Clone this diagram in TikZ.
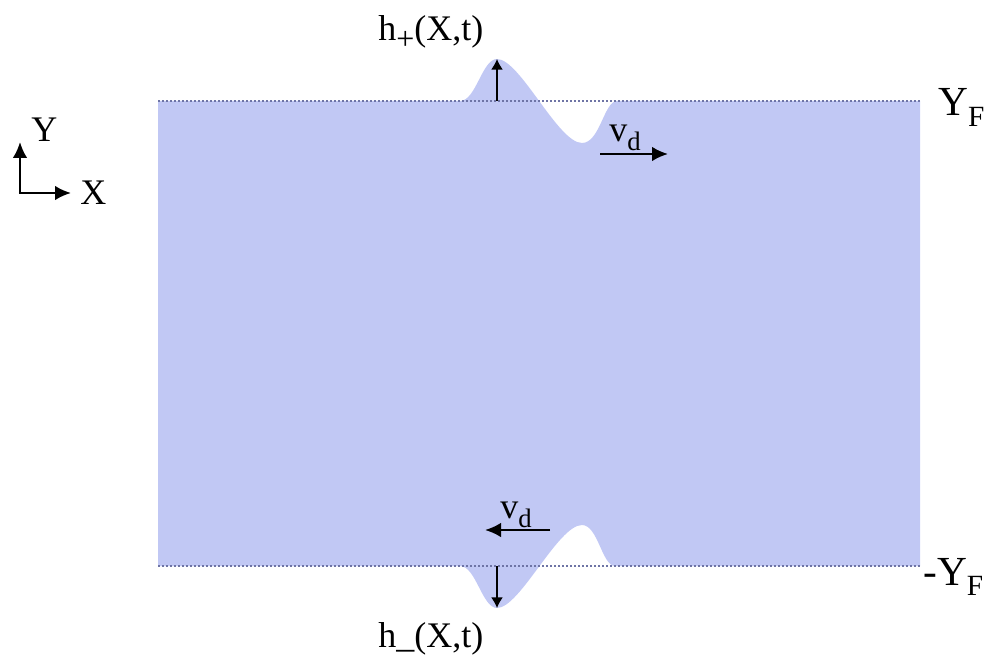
\documentclass[tikz,border=0pt]{standalone}
\usepackage{fontspec}
\setmainfont{Liberation Serif}
\usetikzlibrary{arrows.meta}
\definecolor{film}{RGB}{193,200,244}
\definecolor{dotc}{RGB}{110,116,165}
\newcommand{\mysub}[1]{\raisebox{-0.25em}{\fontsize{20}{22}\selectfont #1}}
\tikzset{
  lbl/.style={inner sep=0pt, font=\fontsize{27}{30}\selectfont},
  bigarrow/.style={line width=1.8pt, -{Latex[length=12pt,width=11pt]}},
  harrow/.style={line width=1.2pt, -{Latex[length=8pt,width=9pt]}},
  dotline/.style={dotc, line width=1.4pt, dash pattern=on 1.4pt off 1.6pt}
}
\begin{document}
\begin{tikzpicture}[x=0.75pt,y=-0.75pt]
\useasboundingbox (0,0) rectangle (984,655);
% film
\fill[film] (158,101) -- (460,101)
  .. controls (476,101) and (482,59) .. (497,59)
  .. controls (520,59) and (558,143) .. (582,143)
  .. controls (600,143) and (604,101) .. (617,101)
  -- (920,101) -- (920,566) -- (615,566)
  .. controls (602,566) and (598,525) .. (582,525)
  .. controls (558,525) and (520,608) .. (497,608)
  .. controls (482,608) and (476,566) .. (460,566)
  -- (158,566) -- cycle;
% boundaries
\coordinate (tl) at (158,101); \coordinate (tr) at (920,101);
\coordinate (bl) at (158,566); \coordinate (br) at (920,566);
\draw[dotline] (tl) -- (tr);
\draw[dotline] (bl) -- (br);
% h arrows
\coordinate (hpb) at (497,101); \coordinate (hpt) at (497,59);
\coordinate (hmb) at (497,566); \coordinate (hmt) at (497,608);
\draw[harrow] (hpb) -- (hpt);
\draw[harrow] (hmb) -- (hmt);
% velocity arrows
\coordinate (v1a) at (600,154); \coordinate (v1b) at (668,154);
\coordinate (v2a) at (550,530); \coordinate (v2b) at (485,530);
\draw[bigarrow] (v1a) -- (v1b);
\draw[bigarrow] (v2a) -- (v2b);
% axes
\coordinate (o) at (20,193); \coordinate (ay) at (20,142); \coordinate (ax) at (71,193);
\draw[bigarrow] ([yshift=0.9pt]o) -- (ay);
\draw[bigarrow] ([xshift=-0.9pt]o) -- (ax);
% labels
\node[lbl, anchor=base west] (hp) at (378,41) {h\mysub{\fontsize{24}{26}\selectfont +}(X,t)};
\node[lbl, anchor=base west] (hm) at (378,647) {h\_(X,t)};
\node[lbl, anchor=base west] (vd1) at (609,142) {v\mysub{d}};
\node[lbl, anchor=base west] (vd2) at (500,518) {v\mysub{d}};
\node[lbl, anchor=base west] (Y) at (31,142) {Y};
\node[lbl, anchor=base west] (X) at (80,205) {X};
\node[lbl, anchor=base west, font=\fontsize{31}{34}\selectfont] (yf) at (938,116) {Y\mysub{\fontsize{22}{24}\selectfont F}};
\node[lbl, anchor=base west, font=\fontsize{31}{34}\selectfont] (myf) at (923,585) {-Y\mysub{\fontsize{22}{24}\selectfont F}};
\end{tikzpicture}
\end{document}
